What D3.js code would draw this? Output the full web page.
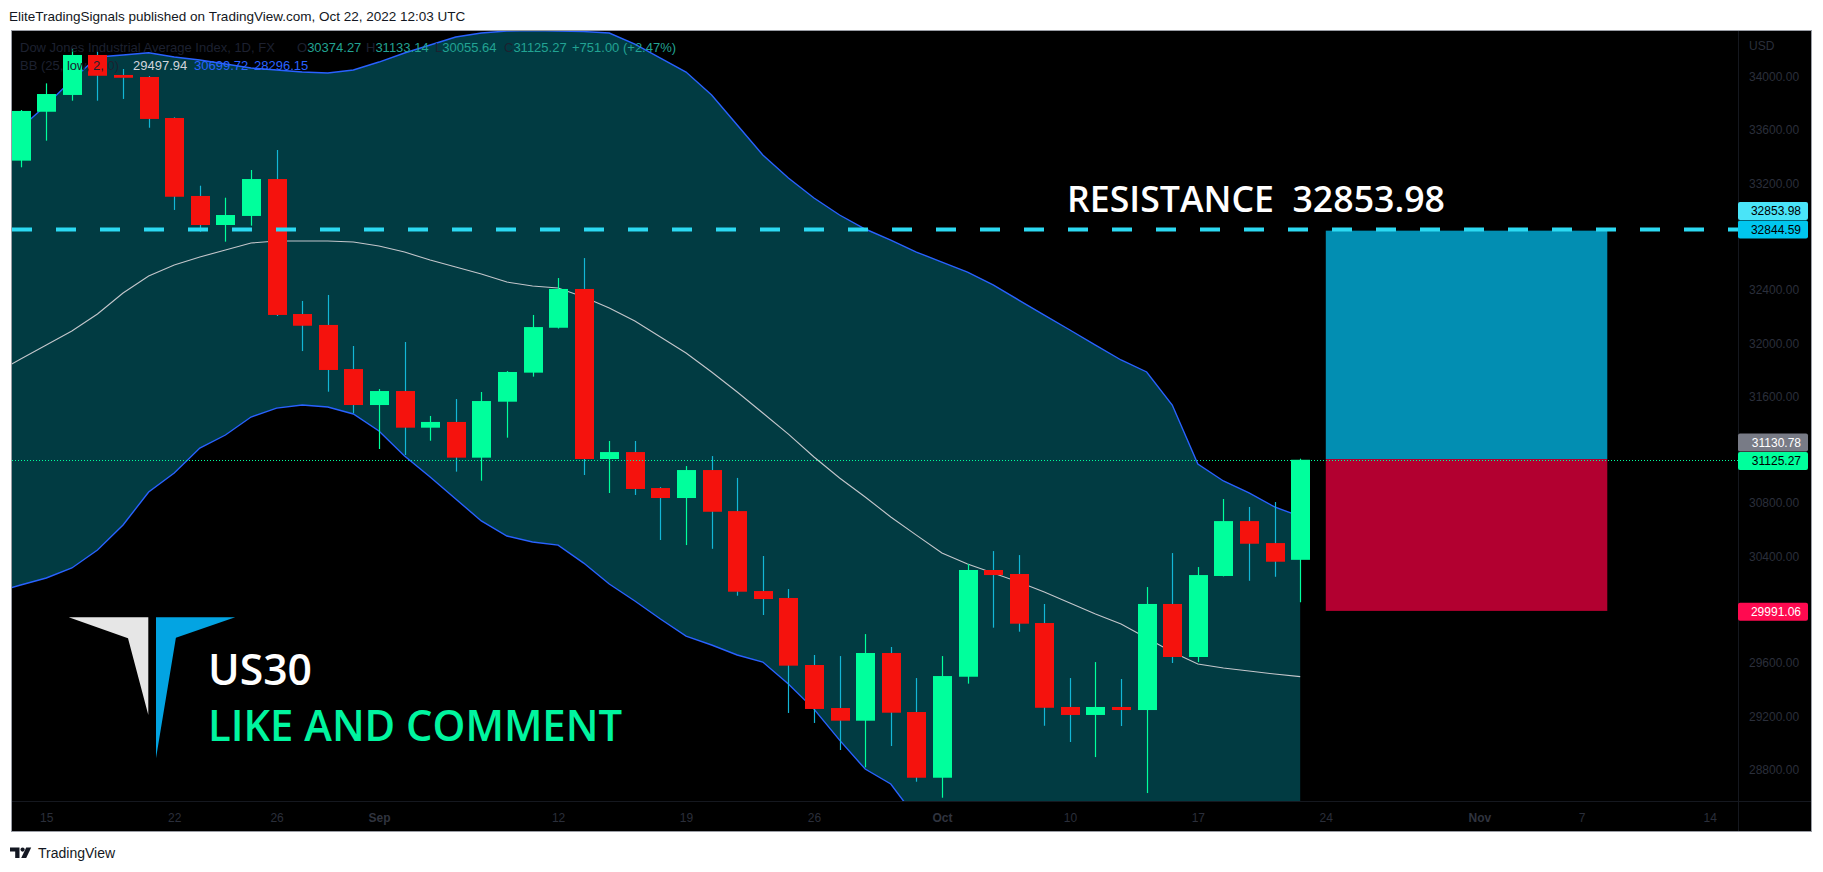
<!DOCTYPE html>
<html><head><meta charset="utf-8">
<script src="https://cdn.jsdelivr.net/npm/d3@7"></script>
<style>
html,body{margin:0;padding:0;background:#fff;overflow:hidden;}
svg{display:block;}
text{font-family:"Liberation Sans",Arial,sans-serif;}
</style></head>
<body>
<svg id="c" width="1823" height="872"></svg>
<script>
// ---------------- DATA ----------------
const dates = ["2022-08-12",
 "2022-08-15","2022-08-16","2022-08-17","2022-08-18","2022-08-19",
 "2022-08-22","2022-08-23","2022-08-24","2022-08-25","2022-08-26",
 "2022-08-29","2022-08-30","2022-08-31","2022-09-01","2022-09-02",
 "2022-09-05","2022-09-06","2022-09-07","2022-09-08","2022-09-09",
 "2022-09-12","2022-09-13","2022-09-14","2022-09-15","2022-09-16",
 "2022-09-19","2022-09-20","2022-09-21","2022-09-22","2022-09-23",
 "2022-09-26","2022-09-27","2022-09-28","2022-09-29","2022-09-30",
 "2022-10-03","2022-10-04","2022-10-05","2022-10-06","2022-10-07",
 "2022-10-10","2022-10-11","2022-10-12","2022-10-13","2022-10-14",
 "2022-10-17","2022-10-18","2022-10-19","2022-10-20","2022-10-21"];
const opens  = [33370,33737,33863,34163,34013,33998,33690,33105,32887,32955,33232,32219,32137,31806,31536,31641,31366,31409,31141,31561,31779,32116,32407,31131,31183,30913,30838,31048,30740,30140,30088,29585,29262,29167,29675,29232,28739,29497,30298,30268,29900,29270,29210,29270,29247,30043,29645,30253,30665,30500,30374.27];
const highs  = [33750,33950,34206,34188,34058,34005,33695,33182,33092,33300,33450,32317,32362,31979,31656,32009,31454,31581,31634,31791,32212,32489,32639,31266,31266,30920,31078,31153,30989,30403,30155,29660,29652,29817,29720,29487,29652,30343,30440,30410,30043,29487,29607,29480,30170,30425,30320,30831,30771,30808,31133.14];
const lows   = [33320,33520,33820,33820,33833,33617,33000,32837,32762,32882,32204,31941,31636,31474,31206,31161,31268,31036,30968,31291,31749,32110,31011,30876,30861,30523,30485,30457,30105,29960,29225,29150,28947,28817,28977,28709,28589,29445,29865,29835,29129,29007,28894,29127,28624,29600,29607,30250,30217,30247,30055.64];
const closes = [33743,33870,34163,34007,33992,33683,33099,32887,32962,33232,32212,32131,31799,31536,31641,31366,31409,31141,31566,31784,32121,32407,31131,31183,30906,30838,31048,30735,30135,30080,29580,29255,29167,29675,29227,28739,29502,30298,30260,29895,29264,29210,29270,29247,30043,29645,30260,30665,30495,30360,31125.27];

// Bollinger Bands (25, low, 2): first value is 2022-08-11, then one per candle date
const bbFirstDate = "2022-08-11";
const bbUpper = [33450,33615,33788,33975,34148,34163,34180,34148,34125,34095,34065,34050,34035,34028,34050,34110,34178,34238,34298,34328,34343,34347,34343,34339,34328,34245,34140,34035,33863,33637,33412,33240,33090,32962,32857,32774,32684,32609,32534,32437,32324,32211,32099,31986,31874,31784,31536,31093,30966,30876,30771,30699.72];
const bbBasis = [31776,31881,31986,32091,32219,32377,32504,32587,32647,32699,32752,32767,32767,32767,32759,32729,32684,32624,32572,32519,32459,32429,32414,32347,32264,32166,32046,31926,31784,31634,31476,31318,31146,30988,30846,30696,30560,30425,30343,30275,30208,30133,30050,29968,29893,29787,29682,29592,29562,29540,29517,29497.94];
const bbLower = [30133,30185,30238,30313,30448,30636,30883,31026,31213,31311,31446,31513,31536,31521,31469,31341,31153,30996,30831,30666,30553,30508,30485,30350,30193,30065,29930,29802,29735,29660,29607,29442,29254,29021,28804,28692,28436,28241,28152,28113,28092,28055,28001,27950,27912,27790,27828,28091,28158,28204,28263,28296.15];

const priceTicks = [28800,29200,29600,30000,30400,30800,31200,31600,32000,32400,32800,33200,33600,34000];
const timeTickDates  = ["2022-08-15","2022-08-22","2022-08-26","2022-09-01","2022-09-12","2022-09-19","2022-09-26","2022-10-03","2022-10-10","2022-10-17","2022-10-24","2022-11-01","2022-11-07","2022-11-14"];
const timeTickLabels = ["15","22","26","Sep","12","19","26","Oct","10","17","24","Nov","7","14"];
const monthLabels = ["Sep","Oct","Nov"];

const resistance = 32853.98;
const posEntry = 31130.78, posTarget = 32844.59, posStop = 29991.06;
const posStartDate = "2022-10-24", posEndDate = "2022-11-08";
const lastPrice = 31125.27;

const legendOHLC = [["O","30374.27"],["H","31133.14"],["L","30055.64"],["C","31125.27"]];
const legendChange = "+751.00 (+2.47%)";
const bbLegend = ["29497.94","30699.72","28296.15"];

// ---------------- HELPERS ----------------
const DAY = 864e5;
const origin = Date.UTC(2022,7,12);
function tradeIndex(s){
  const [Y,M,D] = s.split('-').map(Number);
  const t = Date.UTC(Y,M-1,D);
  let n = 0;
  if (t >= origin){
    for (let d = origin + DAY; d <= t; d += DAY){ const w = new Date(d).getUTCDay(); if (w!==0 && w!==6) n++; }
  } else {
    for (let d = t; d < origin; d += DAY){ const w = new Date(d).getUTCDay(); if (w!==0 && w!==6) n--; }
  }
  return n;
}

// ---------------- LAYOUT ----------------
const plot = {x0:12, y0:31, x1:1738, y1:801};
const frame = {x0:11, y0:30, x1:1812, y1:832};
const step = 25.59;
const x = d3.scaleLinear().domain([0,66]).range([20.7, 20.7 + 66*step]);
const y = d3.scaleLinear().domain([28800,34000]).range([769.6,76.7]);

const GREEN = "#00ff9c", RED = "#f5120d", REDWICK = "#13b6d6";
const BLUE = "#2962ff", TEAL = "#013b42";
const DIM = "#2b2f3b";

const svg = d3.select("#c");

// header
svg.append("text").attr("x",9).attr("y",21).attr("font-size",13.5).attr("fill","#131722")
  .text("EliteTradingSignals published on TradingView.com, Oct 22, 2022 12:03 UTC");

// frame
svg.append("rect").attr("x",frame.x0+0.5).attr("y",frame.y0+0.5)
  .attr("width",frame.x1-frame.x0-1).attr("height",frame.y1-frame.y0-1)
  .attr("fill","#000").attr("stroke","#9a9da5").attr("stroke-width",1);

// separators
svg.append("line").attr("x1",plot.x1+0.5).attr("x2",plot.x1+0.5).attr("y1",frame.y0+1).attr("y2",frame.y1-1)
  .attr("stroke","#15181f");
svg.append("line").attr("x1",frame.x0+1).attr("x2",frame.x1-1).attr("y1",plot.y1+0.5).attr("y2",plot.y1+0.5)
  .attr("stroke","#15181f");

svg.append("defs").append("clipPath").attr("id","pc").append("rect")
  .attr("x",plot.x0).attr("y",plot.y0).attr("width",plot.x1-plot.x0).attr("height",plot.y1-plot.y0);

const g = svg.append("g").attr("clip-path","url(#pc)");

// Bollinger bands
const bbStart = tradeIndex(bbFirstDate);
const bbData = bbUpper.map((u,i)=>({k:bbStart + i, u, m:bbBasis[i], l:bbLower[i]}));
g.append("path").datum(bbData)
  .attr("d", d3.area().x(d=>x(d.k)).y0(d=>y(d.l)).y1(d=>y(d.u)))
  .attr("fill",TEAL);
g.append("path").datum(bbData).attr("d", d3.line().x(d=>x(d.k)).y(d=>y(d.u)))
  .attr("fill","none").attr("stroke",BLUE).attr("stroke-width",1.4);
g.append("path").datum(bbData).attr("d", d3.line().x(d=>x(d.k)).y(d=>y(d.l)))
  .attr("fill","none").attr("stroke",BLUE).attr("stroke-width",1.4);
g.append("path").datum(bbData).attr("d", d3.line().x(d=>x(d.k)).y(d=>y(d.m)))
  .attr("fill","none").attr("stroke","#c4c6cb").attr("stroke-width",1.1);

// candles
const candles = dates.map((d,i)=>({k:tradeIndex(d), o:opens[i], h:highs[i], l:lows[i], c:closes[i]}));
const bw = Math.round(step*0.74);
const cg = g.append("g");
cg.selectAll("line.w").data(candles).join("line")
  .attr("x1",d=>Math.round(x(d.k))+0.5).attr("x2",d=>Math.round(x(d.k))+0.5)
  .attr("y1",d=>y(d.h)).attr("y2",d=>y(d.l))
  .attr("stroke",d=>d.c>=d.o?GREEN:REDWICK).attr("stroke-width",1.2);
cg.selectAll("rect.b").data(candles).join("rect")
  .attr("x",d=>Math.round(x(d.k)) - Math.floor(bw/2))
  .attr("width",bw)
  .attr("y",d=>y(Math.max(d.o,d.c)))
  .attr("height",d=>Math.max(1.5, y(Math.min(d.o,d.c)) - y(Math.max(d.o,d.c))))
  .attr("fill",d=>d.c>=d.o?GREEN:RED);

// position tool (long)
const px0 = x(tradeIndex(posStartDate)), px1 = x(tradeIndex(posEndDate));
g.append("rect").attr("x",px0).attr("width",px1-px0).attr("y",y(posTarget)).attr("height",y(posEntry)-y(posTarget))
  .attr("fill","#028eb2");
g.append("rect").attr("x",px0).attr("width",px1-px0).attr("y",y(posEntry)).attr("height",y(posStop)-y(posEntry))
  .attr("fill","#b20030");

// resistance dashed line
g.append("line").attr("x1",plot.x0).attr("x2",plot.x1).attr("y1",y(resistance)).attr("y2",y(resistance))
  .attr("stroke","#2cd9f2").attr("stroke-width",4).attr("stroke-dasharray","20,24");

// current price dotted line
g.append("line").attr("x1",plot.x0).attr("x2",plot.x1).attr("y1",Math.round(y(lastPrice))+0.5).attr("y2",Math.round(y(lastPrice))+0.5)
  .attr("stroke",GREEN).attr("stroke-width",1).attr("stroke-dasharray","1,2");

// legend
const lg = svg.append("g").attr("font-size",13);
lg.append("text").attr("x",20).attr("y",51.5).attr("fill","#1d2130").text("Dow Jones Industrial Average Index, 1D, FX");
const ohlcX = [297,366,435,504];
legendOHLC.forEach((p,i)=>{
  const t = lg.append("text").attr("x",ohlcX[i]).attr("y",51.5);
  t.append("tspan").attr("fill","#1d2130").text(p[0]);
  t.append("tspan").attr("fill","#22a393").text(p[1]);
});
lg.append("text").attr("x",572).attr("y",51.5).attr("fill","#22a393").text(legendChange);
lg.append("text").attr("x",20).attr("y",70).attr("fill","#1d2130").text("BB (25, low, 2, 0)");
const bbX = [133,194,254], bbC = ["#d1d4dc",BLUE,BLUE];
bbLegend.forEach((v,i)=> lg.append("text").attr("x",bbX[i]).attr("y",70).attr("fill",bbC[i]).text(v));

// annotation texts
svg.append("text").attr("x",1067).attr("y",212).attr("font-size",36).attr("font-weight",600)
  .attr("fill","#fff").style("font-family","'Open Sans',sans-serif").style("white-space","pre")
  .attr("textLength",378).attr("lengthAdjust","spacingAndGlyphs")
  .text("RESISTANCE  " + resistance.toFixed(2));
svg.append("text").attr("x",208).attr("y",685).attr("font-size",44).attr("font-weight",600)
  .attr("fill","#fff").style("font-family","'Open Sans',sans-serif")
  .attr("textLength",104).attr("lengthAdjust","spacingAndGlyphs").text("US30");
svg.append("text").attr("x",208).attr("y",741).attr("font-size",44).attr("font-weight",600)
  .attr("fill","#00f59f").style("font-family","'Open Sans',sans-serif")
  .attr("textLength",414).attr("lengthAdjust","spacingAndGlyphs").text("LIKE AND COMMENT");

// logo
svg.append("path").attr("d","M68.7,617.3 L148.3,617.3 L148.3,715 L128,638.3 Z").attr("fill","#e6e6e6");
svg.append("path").attr("d","M156,617.3 L235.2,617.3 L175.9,637.7 L156,758.3 Z").attr("fill","#03a4e2");

// price axis labels (boxes) – positions
const LH = 18.5;
const cT = y(posTarget) - 1;
const cL = y(lastPrice) + 1.5;
const labelDefs = [
  [posTarget, cT, "#00c6ef", "#000"],
  [resistance, cT - LH, "#4ae4f8", "#000"],
  [lastPrice, cL, GREEN, "#000"],
  [posEntry, cL - LH, "#787b86", "#fff"],
  [posStop, y(posStop) + 1, "#ff0a50", "#fff"]
];
// tick labels hidden under a price label box (as the chart does)
const shownTicks = priceTicks.filter(t => labelDefs.every(l => Math.abs(y(t) - l[1]) > LH*0.9));

// price axis
const ya = d3.axisRight(y).tickValues(shownTicks).tickFormat(d3.format(".2f")).tickSize(0).tickPadding(11);
const yag = svg.append("g").attr("transform",`translate(${plot.x1},0)`).call(ya);
yag.select(".domain").remove();
yag.selectAll("text").attr("fill",DIM).attr("font-size",12).style("font-family","'Liberation Sans',Arial,sans-serif");
svg.append("text").attr("x",1749).attr("y",50).attr("font-size",12).attr("fill",DIM).text("USD");

// time axis
const xa = d3.axisBottom(x).tickValues(timeTickDates.map(tradeIndex))
  .tickFormat((d,i)=>timeTickLabels[i]).tickSize(0).tickPadding(12);
const xag = svg.append("g").attr("transform",`translate(0,${plot.y1})`).call(xa);
xag.select(".domain").remove();
xag.selectAll("text").attr("font-size",12).style("font-family","'Liberation Sans',Arial,sans-serif")
  .attr("font-weight",(d,i)=> monthLabels.includes(timeTickLabels[i]) ? "bold" : "normal")
  .attr("fill",(d,i)=> monthLabels.includes(timeTickLabels[i]) ? "#30343f" : DIM);

function priceLabel(v, cy, bg, fg){
  svg.append("rect").attr("x",plot.x1).attr("y",cy - LH/2).attr("width",70).attr("height",LH-0.5).attr("rx",2).attr("fill",bg);
  svg.append("text").attr("x",1801).attr("y",cy+4).attr("text-anchor","end").attr("font-size",12)
    .attr("fill",fg).text(v.toFixed(2));
}
labelDefs.forEach(l => priceLabel(...l));

// footer
const fg = svg.append("g").attr("fill","#131722");
fg.append("path").attr("d","M10,847.5 h9.5 v10.5 h-4.3 v-6.5 h-5.2 z");
fg.append("circle").attr("cx",22.6).attr("cy",849.6).attr("r",2.1);
fg.append("path").attr("d","M26.2,847.5 h5 l-5,10.5 h-5 z");
svg.append("text").attr("x",38).attr("y",858).attr("font-size",14).attr("fill","#131722").text("TradingView");
</script>
</body></html>
